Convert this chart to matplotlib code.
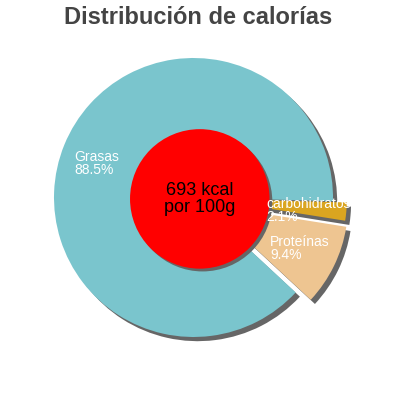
import numpy as np
import matplotlib
matplotlib.use("Agg")
import matplotlib.pyplot as plt
from matplotlib.patches import Wedge, Circle, Rectangle

plt.rcParams["font.family"] = ["Liberation Sans", "DejaVu Sans"]

# data
labels = ["Grasas", "Proteínas", "carbohidratos"]
shares = [88.5, 9.4, 2.1]
colors = ["#7AC5CD", "#EEC591", "#DAA520"]
center_text = "693 kcal\npor 100g"
title = "Distribución de calorías"

# layout
start_angle = -1.5
explode = [0.0, 0.12, 0.1]
label_r = [0.92, 0.49, 0.42]
label_turn = [0.5, 0.0, 7.0]
shadow_off = (0.03, -0.03)
cx_px, cy_px, r_px = 193.5, 197.5, 139.5

fig = plt.figure(figsize=(4, 4), dpi=100)
ax = fig.add_axes([0, 0, 1, 1])
ax.set_xlim(-cx_px / r_px, (400 - cx_px) / r_px)
ax.set_ylim(-(400 - cy_px) / r_px, cy_px / r_px)
ax.set_aspect("equal")
ax.axis("off")

total = sum(shares)
angles = start_angle + np.cumsum([0] + [s / total * 360 for s in shares])

wedges = []
for i, share in enumerate(shares):
    t1, t2 = angles[i], angles[i + 1]
    mid = np.deg2rad((t1 + t2) / 2)
    off = (explode[i] * np.cos(mid), explode[i] * np.sin(mid))
    wedges.append((t1, t2, mid, off))

# shadows first
for t1, t2, mid, off in wedges:
    ax.add_patch(Wedge((off[0] + shadow_off[0], off[1] + shadow_off[1]), 1, t1, t2,
                       facecolor="#666666", edgecolor="none", zorder=1))
for i, (t1, t2, mid, off) in enumerate(wedges):
    ax.add_patch(Wedge(off, 1, t1, t2, facecolor=colors[i], edgecolor="none", zorder=2))

# centre disc
ax.add_patch(Circle((0.065, -0.03), 0.5, facecolor="#666666", edgecolor="none", zorder=3))
ax.add_patch(Circle((0.045, -0.01), 0.5, facecolor="#FF0000", edgecolor="none", zorder=4))
ax.text(0.045, -0.01, center_text, ha="center", va="center", fontsize=13,
        color="black", linespacing=1.0, zorder=6)

# labels are cut off at the plot edge, like in the original
clip = Rectangle((-2, -2), 2 + (347 - cx_px) / r_px, 4, transform=ax.transData,
                 facecolor="none", edgecolor="none")
ax.add_patch(clip)
for i, (t1, t2, mid, off) in enumerate(wedges):
    a = mid + np.deg2rad(label_turn[i])
    x = off[0] + label_r[i] * np.cos(a)
    y = off[1] + label_r[i] * np.sin(a)
    t = ax.text(x, y, f"{labels[i]}\n{shares[i]}%", ha="left", va="top", fontsize=10,
                color="white", linespacing=0.9, zorder=5)
    t.set_clip_path(clip)

fig.text(198 / 400, 1 - 17 / 400, title, ha="center", va="center", fontsize=17,
         fontweight="bold", color="#444444")

fig.savefig("out.png", dpi=100)
